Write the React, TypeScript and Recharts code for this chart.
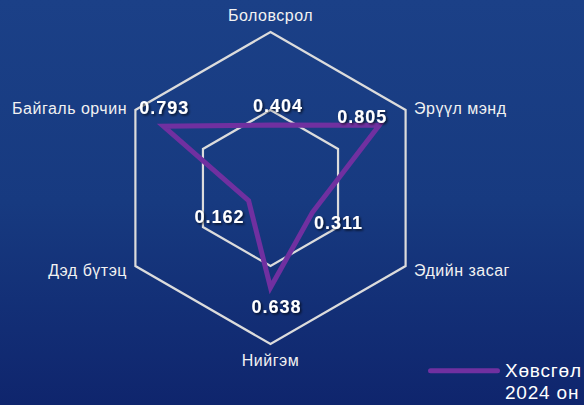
import { RadarChart, Radar, PolarGrid, PolarAngleAxis, PolarRadiusAxis } from "recharts";

const categories = ["Боловсрол", "Эрүүл мэнд", "Эдийн засаг", "Нийгэм", "Дэд бүтэц", "Байгаль орчин"];
const khovsgol2024 = [0.404, 0.805, 0.311, 0.638, 0.162, 0.793];
const gridLevels = [0.5, 1];
const seriesName = "Хөвсгөл 2024 он";

// where each value label sits relative to its point (text centre x, baseline y)
const labelOffsets = [
  [7.5, -12.6],
  [-17, -1.8],
  [26, 17],
  [6, 25],
  [-29, 22.6],
  [0.8, -12.2],
];

const chartData = categories.map((name, i) => ({ name, value: khovsgol2024[i] }));

const WIDTH = 584;
const HEIGHT = 405;
const CX = 270.5;
const CY = 188;
const OUTER_R = 156;
const PURPLE = "#7030A0";
const FONT = '"Liberation Sans", Arial, sans-serif';

const renderAxisTick = (props: any) => {
  const { x, y, payload, textAnchor } = props;
  let dx = 0;
  let dy = 0;
  if (textAnchor === "middle") {
    dy = y < CY ? -3 : 14;
  } else {
    dx = textAnchor === "start" ? 1.5 : -1.5;
    dy = y < CY ? 7.5 : 5.5;
  }
  return (
    <text
      x={x + dx}
      y={y + dy}
      textAnchor={textAnchor}
      fill="#f2f2f2"
      fontSize={16}
      letterSpacing={0.5}
      fontFamily={FONT}
    >
      {payload.value}
    </text>
  );
};

const renderValueLabel = (props: any) => {
  const { x, y, value, index } = props;
  const [ox, oy] = labelOffsets[index] ?? [0, -10];
  return (
    <text
      x={x + ox}
      y={y + oy}
      textAnchor="middle"
      fill="#ffffff"
      fontSize={18}
      fontWeight="bold"
      letterSpacing={1}
      fontFamily={FONT}
      filter="url(#labelShadow)"
    >
      {Number(value).toFixed(3)}
    </text>
  );
};

export default function App() {
  return (
    <div
      style={{
        position: "absolute",
        left: 0,
        top: 0,
        width: WIDTH,
        height: HEIGHT,
        overflow: "hidden",
        background: "linear-gradient(180deg, #1b4087 0%, #173a80 50%, #0f256d 100%)",
        fontFamily: FONT,
      }}
    >
      <RadarChart
        width={WIDTH}
        height={HEIGHT}
        data={chartData}
        cx={CX}
        cy={CY}
        outerRadius={OUTER_R}
        margin={{ top: 0, right: 0, bottom: 0, left: 0 }}
      >
        <defs>
          <filter id="labelShadow" x="-20%" y="-40%" width="150%" height="190%">
            <feDropShadow dx="1.5" dy="1.5" stdDeviation="1" floodColor="#000000" floodOpacity="0.7" />
          </filter>
        </defs>
        <PolarGrid
          gridType="polygon"
          radialLines={false}
          polarRadius={gridLevels.map((l) => l * OUTER_R)}
          stroke="#dcdcdc"
          strokeWidth={2.2}
        />
        <PolarRadiusAxis domain={[0, 1]} tickCount={3} tick={false} axisLine={false} />
        <PolarAngleAxis dataKey="name" tick={renderAxisTick} tickLine={false} axisLine={false} />
        <Radar
          name={seriesName}
          dataKey="value"
          stroke={PURPLE}
          strokeWidth={5}
          fill="none"
          fillOpacity={0}
          dot={false}
          label={renderValueLabel}
          isAnimationActive={false}
        />
      </RadarChart>

      <div style={{ position: "absolute", left: 428, top: 358, display: "flex", alignItems: "flex-start" }}>
        <svg width={72} height={26} style={{ flex: "none" }}>
          <line x1={2.5} y1={12.7} x2={69.5} y2={12.7} stroke={PURPLE} strokeWidth={5} strokeLinecap="round" />
        </svg>
        <div
          style={{
            marginLeft: 5,
            width: 82,
            color: "#ffffff",
            fontSize: 19,
            lineHeight: "22px",
            letterSpacing: 0.8,
            marginTop: 2,
          }}
        >
          {seriesName}
        </div>
      </div>
    </div>
  );
}
